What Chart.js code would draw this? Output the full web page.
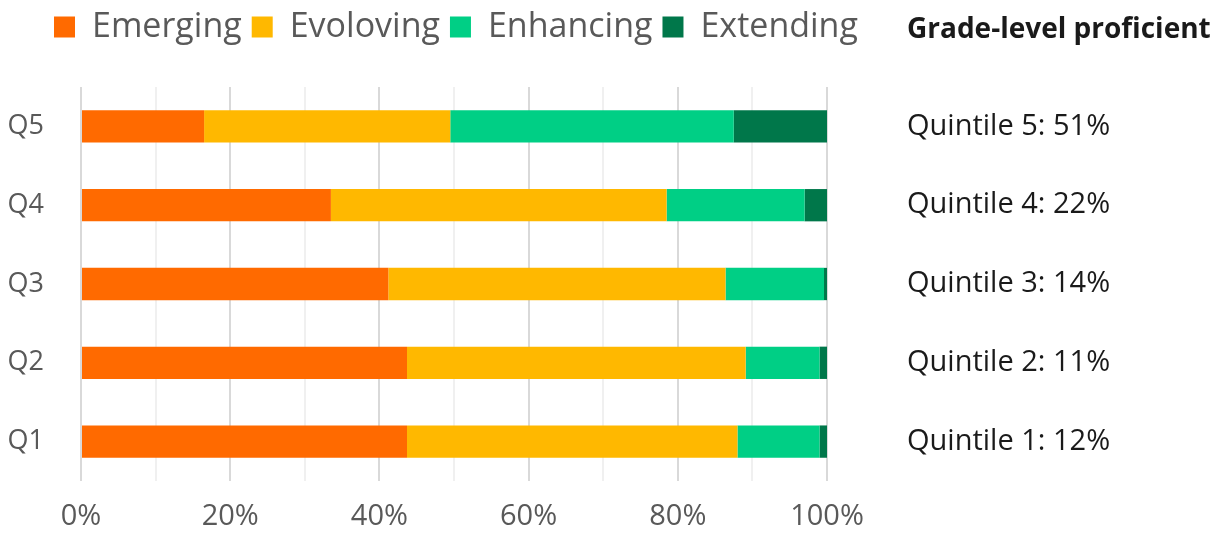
<!DOCTYPE html>
<html>
<head>
<meta charset="utf-8">
<title>Quintile proficiency</title>
<script src="https://cdn.jsdelivr.net/npm/chart.js@4.4.1/dist/chart.umd.min.js"></script>
<style>
    html, body { margin: 0; padding: 0; background: #fff; }
    #wrap { position: relative; width: 1222px; height: 539px; }
    #sideTitle {
        position: absolute; left: 907px; top: 8px;
        font: bold 28px 'Open Sans', sans-serif; color: #1a1a1a; white-space: nowrap;
    }
</style>
</head>
<body>
<div id="wrap">
    <canvas id="chart" width="1222" height="539"></canvas>
    <div id="sideTitle">Grade-level proficient</div>
</div>
<script>
// Veriler (üstten alta: Q5 -> Q1)
const quintiles = ['Q5', 'Q4', 'Q3', 'Q2', 'Q1'];
const emerging = [16.5, 33.5, 41.2, 43.7, 43.7];
const evolving = [33.0, 45.0, 45.2, 45.4, 44.3];
const enhancing = [38.0, 18.5, 13.2, 9.9, 11.0];
const extending = [12.5, 3.0, 0.4, 1.0, 1.0];
const proficient = [51, 22, 14, 11, 12];
const xTickLabels = ['0%', '20%', '40%', '60%', '80%', '100%'];

const colors = {
    emerging: '#FF6A00',
    evolving: '#FFB800',
    enhancing: '#00CF85',
    extending: '#00774A'
};

const fontFamily = "'Open Sans', sans-serif";
const quintileLabels = quintiles.map((q, i) => `Quintile ${q.slice(1)}: ${proficient[i]}%`);

// Lejantı sağa kaydır ve altına boşluk bırak
const legendTweaks = {
    id: 'legendTweaks',
    beforeInit(chart) {
        const origFit = chart.legend.fit;
        chart.legend.fit = function () {
            origFit.bind(chart.legend)();
            this.height += 33;
        };
    },
    afterLayout(chart) {
        chart.legend.left = 44;
    }
};

function makeSet(label, data, color) {
    return {
        label: label,
        data: data,
        backgroundColor: color,
        borderWidth: 0,
        categoryPercentage: 1,
        barPercentage: 0.41
    };
}

new Chart(document.getElementById('chart').getContext('2d'), {
    type: 'bar',
    data: {
        labels: quintiles,
        datasets: [
            makeSet('Emerging', emerging, colors.emerging),
            makeSet('Evoloving', evolving, colors.evolving),
            makeSet('Enhancing', enhancing, colors.enhancing),
            makeSet('Extending', extending, colors.extending)
        ]
    },
    options: {
        responsive: false,
        animation: false,
        indexAxis: 'y',
        layout: { padding: { left: 4, top: 0, right: 0, bottom: 0 } },
        plugins: {
            tooltip: { enabled: false },
            legend: {
                position: 'top',
                align: 'start',
                labels: {
                    boxWidth: 21,
                    boxHeight: 21,
                    padding: 10,
                    color: '#595959',
                    font: { family: fontFamily, size: 34 }
                }
            }
        },
        scales: {
            x: {
                stacked: true,
                min: 0,
                max: 100,
                border: { display: false },
                grid: {
                    drawTicks: false,
                    lineWidth: 2,
                    color: ctx => (ctx.tick && ctx.tick.value % 20 === 0) ? '#d9d9d9' : '#f0f0f0'
                },
                ticks: {
                    stepSize: 10,
                    padding: 18,
                    autoSkip: false,
                    maxRotation: 0,
                    color: '#595959',
                    font: { family: fontFamily, size: 29 },
                    callback: v => (v % 20 === 0) ? xTickLabels[v / 20] : ''
                },
                afterFit: axis => { axis.height = 58; }
            },
            y: {
                stacked: true,
                border: { display: false },
                grid: { display: false },
                ticks: {
                    padding: 29,
                    autoSkip: false,
                    color: '#595959',
                    font: { family: fontFamily, size: 27 }
                },
                afterFit: axis => { axis.width = 77; }
            },
            y2: {
                type: 'category',
                labels: quintileLabels,
                position: 'right',
                offset: true,
                border: { display: false },
                grid: {
                    display: true,
                    drawOnChartArea: false,
                    drawTicks: true,
                    tickLength: 80,
                    tickColor: 'rgba(0,0,0,0)'
                },
                ticks: {
                    padding: 0,
                    autoSkip: false,
                    color: '#1a1a1a',
                    font: { family: fontFamily, size: 29 }
                },
                afterFit: axis => { axis.width = 395; }
            }
        }
    },
    plugins: [legendTweaks]
});
</script>
</body>
</html>
